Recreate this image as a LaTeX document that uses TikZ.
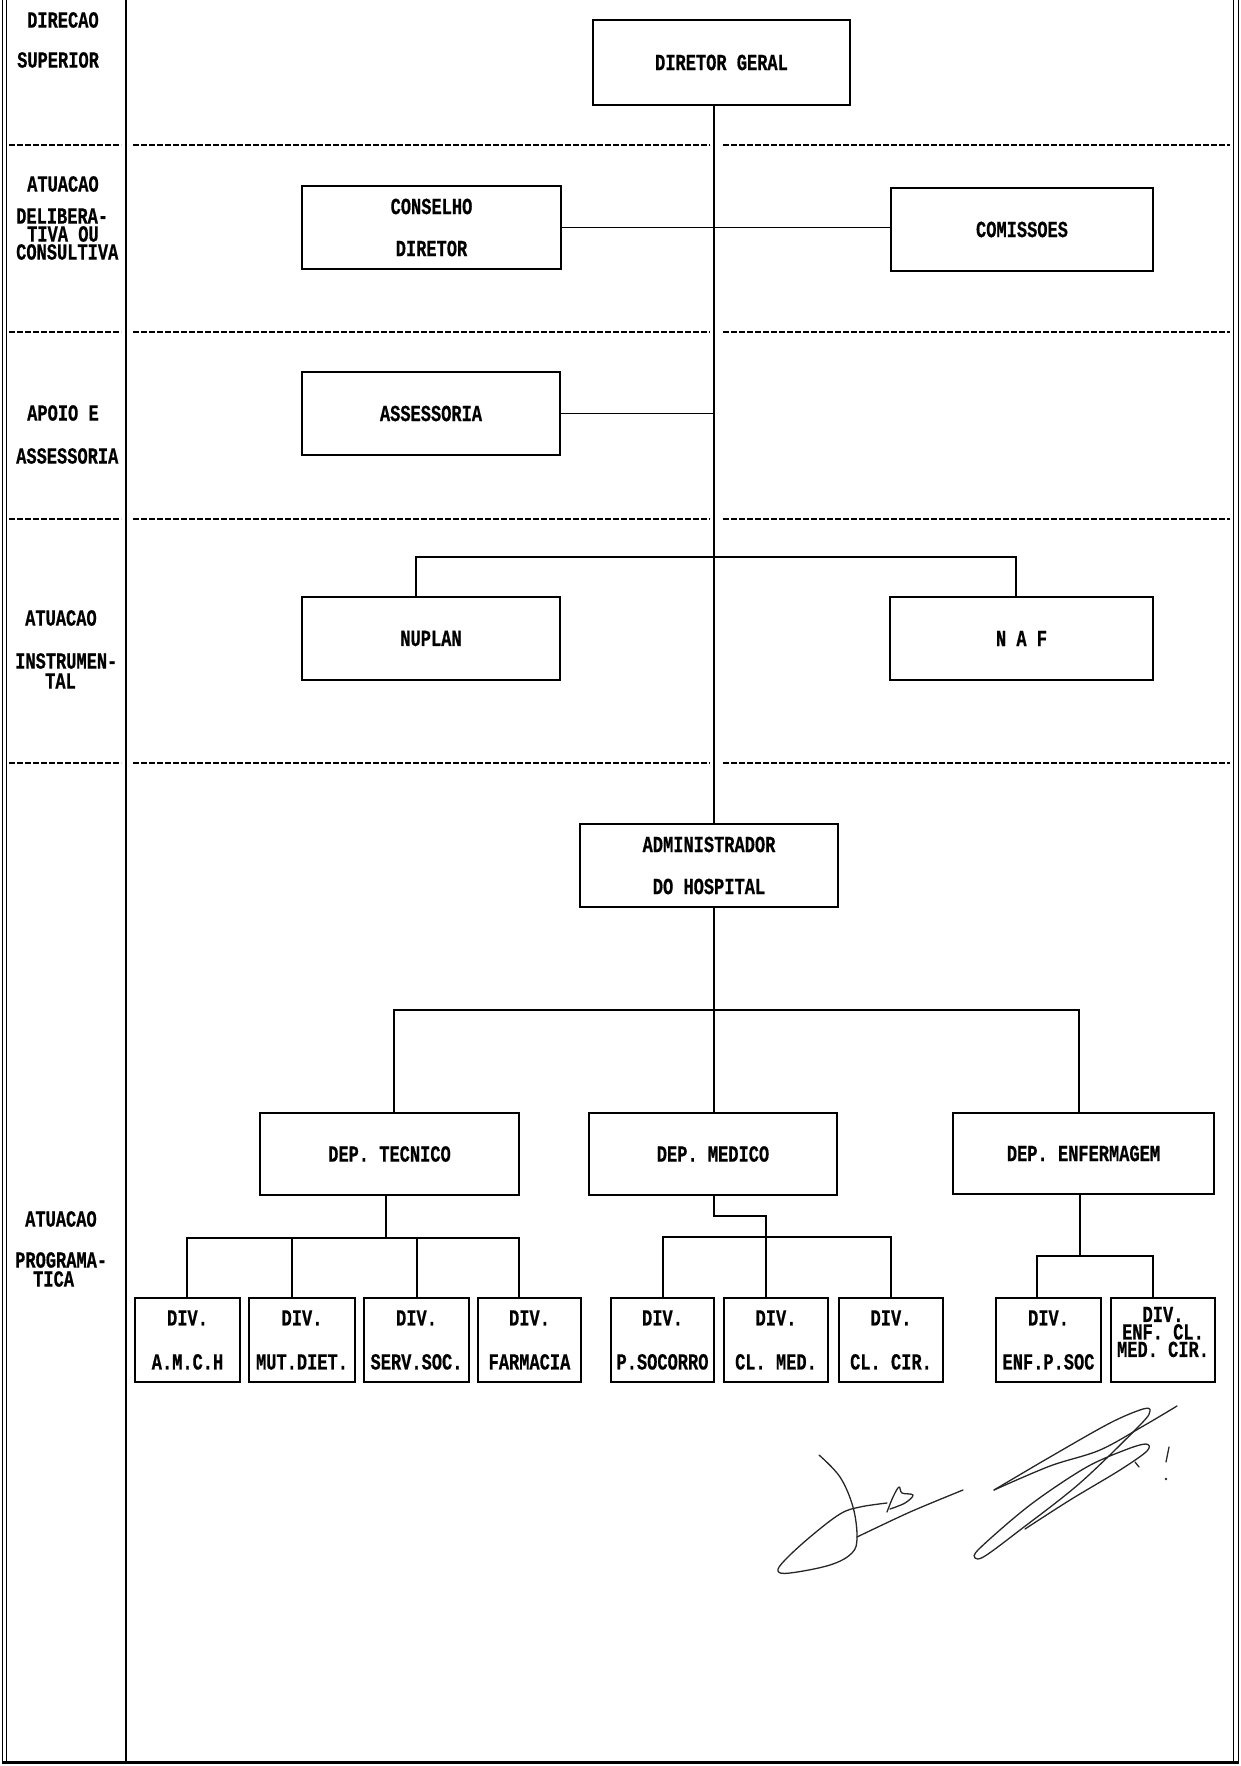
\documentclass[tikz,border=0pt]{standalone}
\usepackage{fontspec}
\newfontfamily\pf[FakeStretch=0.74, BoldFeatures={FakeBold=0.6}]{Liberation Mono}
\newcommand\lblfont{\pf\bfseries\frenchspacing\fontsize{23}{42}\selectfont}
\newcommand\divfont{\pf\bfseries\frenchspacing\fontsize{23}{44}\selectfont}
\newcommand\tightfont{\pf\bfseries\frenchspacing\fontsize{23}{17.5}\selectfont}
\begin{document}
\begin{tikzpicture}[x=1pt,y=-1pt,
  box/.style={draw, line width=2pt, inner sep=0pt, outer sep=0pt, align=center, font=\lblfont},
  divbox/.style={box, font=\divfont, minimum height=84},
  conn/.style={line width=1.8pt},
  sepline/.style={line width=2.4pt, dash pattern=on 5.5pt off 2.5pt},
  lab/.style={inner sep=0pt, anchor=west, font=\lblfont},
  sig/.style={line width=1.3pt, line cap=round, line join=round, black!85},
  frame/.style={line width=1.5pt}
]
\useasboundingbox (0,0) rectangle (1241,1766);

% frame
\draw[frame] (2.5,0) -- (2.5,1763);
\draw[frame] (6.5,0) -- (6.5,1763);
\draw[frame] (1233.5,0) -- (1233.5,1763);
\draw[frame] (1238.5,0) -- (1238.5,1763);
\draw[line width=3pt] (2,1762) -- (1239,1762);
\draw[line width=1.6pt] (126,0) -- (126,1761);

% dashed separators
\foreach \yy in {145,332,519,763}{
  \draw[sepline] (9,\yy) -- (121,\yy);
  \draw[sepline] (133,\yy) -- (710,\yy);
  \draw[sepline] (723,\yy) -- (1230,\yy);
}

% left column labels
\node[lab] (l1a) at (27,20) {DIRECAO};
\node[lab] (l1b) at (17,60) {SUPERIOR};
\node[lab] (l2a) at (27,184) {ATUACAO};
\node[lab] (l2b) at (16,216) {DELIBERA-};
\node[lab] (l2c) at (27,234) {TIVA OU};
\node[lab] (l2d) at (16,252) {CONSULTIVA};
\node[lab] (l3a) at (27,413) {APOIO E};
\node[lab] (l3b) at (16,456) {ASSESSORIA};
\node[lab] (l4a) at (25,618) {ATUACAO};
\node[lab] (l4b) at (15,661) {INSTRUMEN-};
\node[lab] (l4c) at (45,681) {TAL};
\node[lab] (l5a) at (25,1219) {ATUACAO};
\node[lab] (l5b) at (15,1260) {PROGRAMA-};
\node[lab] (l5c) at (33,1279) {TICA};

% boxes
\node[box, minimum width=257, minimum height=85] (dg) at (721.5,62.5) {DIRETOR GERAL};
\node[box, minimum width=259, minimum height=83] (cd) at (431.5,227.5) {CONSELHO\\DIRETOR};
\node[box, minimum width=262, minimum height=83] (com) at (1022,229.5) {COMISSOES};
\node[box, minimum width=258, minimum height=83] (ass) at (431,413.5) {ASSESSORIA};
\node[box, minimum width=258, minimum height=83] (nup) at (431,638.5) {NUPLAN};
\node[box, minimum width=263, minimum height=83] (naf) at (1021.5,638.5) {N A F};
\node[box, minimum width=258, minimum height=83] (adm) at (709,865.5) {ADMINISTRADOR\\DO HOSPITAL};
\node[box, minimum width=259, minimum height=82] (dt) at (389.5,1154) {DEP. TECNICO};
\node[box, minimum width=248, minimum height=82] (dm) at (713,1154) {DEP. MEDICO};
\node[box, minimum width=261, minimum height=81] (de) at (1083.5,1153.5) {DEP. ENFERMAGEM};

\node[divbox, minimum width=105] (d1) at (187.5,1340) {DIV.\\A.M.C.H};
\node[divbox, minimum width=106] (d2) at (302,1340) {DIV.\\MUT.DIET.};
\node[divbox, minimum width=105] (d3) at (416.5,1340) {DIV.\\SERV.SOC.};
\node[divbox, minimum width=103] (d4) at (529.5,1340) {DIV.\\FARMACIA};
\node[divbox, minimum width=103] (d5) at (662.5,1340) {DIV.\\P.SOCORRO};
\node[divbox, minimum width=104] (d6) at (776,1340) {DIV.\\CL. MED.};
\node[divbox, minimum width=104] (d7) at (891,1340) {DIV.\\CL. CIR.};
\node[divbox, minimum width=105] (d8) at (1048.5,1340) {DIV.\\ENF.P.SOC};
\node[divbox, minimum width=104] (d9) at (1163,1340) {};
\node[inner sep=0pt, align=center, font=\tightfont] (d9t) at (1163,1332) {DIV.\\ENF. CL.\\MED. CIR.};

% connectors
\coordinate (sp) at (714,0);
\draw[conn] (dg.south -| sp) -- (adm.north -| sp);
\draw[conn] (adm.south -| sp) -- (dm.north -| sp);
\draw[conn] (cd.east) -- (cd.east -| com.west);
\draw[conn] (ass.east) -- (ass.east -| sp);

\coordinate (nbl) at (416,557);
\coordinate (nbr) at (1016,557);
\draw[conn] (nup.north -| nbl) -- (nbl) -- (nbr) -- (naf.north -| nbr);

\coordinate (dbl) at (394,1010);
\coordinate (dbr) at (1079,1010);
\draw[conn] (dt.north -| dbl) -- (dbl) -- (dbr) -- (de.north -| dbr);

\coordinate (tv) at (386,1238);
\coordinate (tbl) at (187,1238);
\coordinate (t2) at (292,1238);
\coordinate (t3) at (417,1238);
\coordinate (tbr) at (519,1238);
\draw[conn] (dt.south -| tv) -- (tv);
\draw[conn] (d1.north -| tbl) -- (tbl) -- (tbr) -- (d4.north -| tbr);
\draw[conn] (t2) -- (d2.north -| t2);
\draw[conn] (t3) -- (d3.north -| t3);

\coordinate (m1) at (714,1216);
\coordinate (m2) at (766,1216);
\coordinate (mbl) at (663,1237);
\coordinate (mbr) at (891,1237);
\draw[conn] (dm.south -| m1) -- (m1) -- (m2) -- (d6.north -| m2);
\draw[conn] (d5.north -| mbl) -- (mbl) -- (mbr) -- (d7.north -| mbr);

\coordinate (ev) at (1080,1256);
\coordinate (ebl) at (1037,1256);
\coordinate (ebr) at (1153,1256);
\draw[conn] (de.south -| ev) -- (ev);
\draw[conn] (d8.north -| ebl) -- (ebl) -- (ebr) -- (d9.north -| ebr);

% signature
\draw[sig] plot[smooth, tension=0.6] coordinates {(819,1455) (840,1477) (853,1507) (857,1537) (852,1553) (830,1565) (790,1573) (778,1571) (785,1560) (810,1537) (840,1514) (860,1507) (887,1503)};
\draw[sig] plot[smooth, tension=0.6] coordinates {(887,1512) (893,1497) (899,1487) (902,1493) (913,1495) (905,1503) (890,1509)};
\draw[sig] plot[smooth, tension=0.5] coordinates {(857,1537) (910,1512) (963,1490)};
\draw[sig] plot[smooth, tension=0.55] coordinates {(994,1490) (1050,1457) (1110,1423) (1143,1409) (1150,1411) (1140,1425) (1080,1483) (1020,1530) (985,1556) (975,1558) (980,1548) (1030,1505) (1085,1468) (1125,1450) (1146,1444) (1147,1451) (1120,1470) (1070,1500) (1025,1529)};
\draw[sig] plot[smooth, tension=0.55] coordinates {(994,1490) (1050,1466) (1100,1450) (1145,1425) (1177,1406)};
\draw[sig] (1169,1447) -- (1166,1462);
\fill[black!85] (1166,1479) circle (1.4);
\draw[sig] (1135,1462) -- (1139,1467);
\end{tikzpicture}
\end{document}
